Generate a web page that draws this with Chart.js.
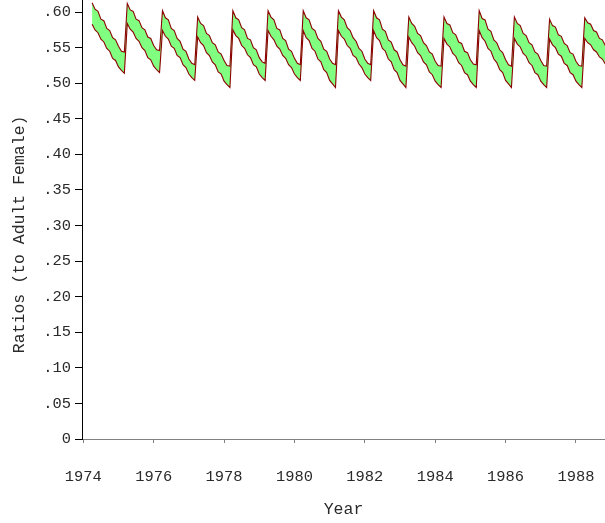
<!DOCTYPE html>
<html><head><meta charset="utf-8">
<script src="https://cdn.jsdelivr.net/npm/chart.js@4"></script>
<style>html,body{margin:0;padding:0;background:#fff}#wrap{width:605px;height:523px;position:relative}</style>
</head><body><div id="wrap"><canvas id="c"></canvas></div>
<script>
// Each row: monthly values April (year) .. March (year+1)
const years = [1974,1975,1976,1977,1978,1979,1980,1981,1982,1983,1984,1985,1986,1987,1988];
const upperRatio = [
  [.613,.604,.601,.590,.588,.577,.574,.564,.561,.552,.545,.544],
  [.612,.603,.601,.590,.588,.578,.575,.565,.563,.553,.547,.546],
  [.602,.592,.589,.577,.574,.563,.559,.548,.545,.534,.528,.526],
  [.593,.584,.581,.570,.567,.557,.554,.544,.541,.532,.525,.524],
  [.602,.592,.589,.578,.575,.563,.561,.550,.547,.536,.530,.528],
  [.602,.593,.589,.577,.575,.563,.560,.548,.545,.535,.528,.526],
  [.602,.592,.589,.577,.574,.563,.559,.548,.545,.534,.528,.526],
  [.602,.593,.589,.578,.574,.564,.559,.549,.545,.534,.528,.526],
  [.602,.592,.589,.576,.573,.561,.558,.547,.544,.533,.526,.524],
  [.593,.584,.580,.570,.567,.557,.553,.544,.541,.531,.525,.524],
  [.593,.584,.582,.571,.568,.558,.556,.545,.543,.533,.527,.526],
  [.602,.591,.589,.576,.573,.561,.557,.547,.543,.533,.526,.524],
  [.593,.584,.581,.570,.567,.557,.554,.544,.541,.532,.525,.524],
  [.590,.581,.579,.568,.566,.556,.553,.543,.541,.531,.525,.524],
  [.592,.585,.583,.574,.572,.563,.561,.553,.551,.543]
];
const lowerRatio = [
  [.583,.575,.571,.562,.558,.549,.545,.535,.532,.523,.518,.514],
  [.584,.576,.572,.563,.559,.550,.546,.536,.533,.524,.519,.515],
  [.574,.566,.562,.552,.549,.539,.536,.526,.522,.513,.508,.504],
  [.565,.557,.553,.543,.539,.530,.526,.516,.513,.503,.498,.494],
  [.575,.567,.563,.553,.549,.540,.536,.526,.523,.513,.508,.504],
  [.574,.566,.561,.552,.548,.539,.535,.526,.522,.513,.508,.504],
  [.574,.564,.560,.549,.545,.534,.530,.519,.515,.504,.499,.494],
  [.574,.566,.562,.553,.549,.539,.536,.527,.522,.513,.508,.504],
  [.574,.564,.560,.549,.545,.534,.530,.519,.515,.504,.499,.494],
  [.565,.557,.552,.543,.539,.530,.526,.516,.512,.503,.498,.494],
  [.563,.555,.551,.542,.538,.529,.525,.515,.512,.503,.498,.494],
  [.574,.564,.559,.549,.545,.534,.529,.519,.515,.504,.499,.494],
  [.563,.555,.551,.542,.538,.529,.525,.515,.512,.503,.498,.494],
  [.562,.554,.550,.541,.538,.528,.525,.515,.512,.503,.498,.494],
  [.563,.557,.554,.547,.544,.537,.534,.527,.525,.518]
];
const xTicks = [1974,1976,1978,1980,1982,1984,1986,1988];
const yTicks = [0,0.05,0.10,0.15,0.20,0.25,0.30,0.35,0.40,0.45,0.50,0.55,0.60];
const yTickLabels = ['0','.05','.10','.15','.20','.25','.30','.35','.40','.45','.50','.55','.60'];
const xTitle = 'Year';
const yTitle = 'Ratios (to Adult Female)';

function toPoints(rows){
  const pts = [];
  rows.forEach((row, k) => {
    row.forEach((v, i) => pts.push({x: years[k] + (3 + i) / 12, y: v}));
  });
  return pts;
}

const FONT = "'Liberation Mono', 'DejaVu Sans Mono', monospace";
const RED = '#8b0000';
const GREEN = '#80ff80';
const TEXT = '#2a2a2a';

new Chart(document.getElementById('c'), {
  type: 'line',
  data: {
    datasets: [
      {data: toPoints(upperRatio), borderColor: RED, borderWidth: 1.1, backgroundColor: GREEN, fill: '+1', pointRadius: 0, tension: 0},
      {data: toPoints(lowerRatio), borderColor: RED, borderWidth: 1.1, fill: false, pointRadius: 0, tension: 0}
    ]
  },
  options: {
    responsive: true, maintainAspectRatio: false, animation: false, devicePixelRatio: 1,
    layout: {padding: 0},
    plugins: {legend: {display: false}, tooltip: {enabled: false}, filler: {drawTime: 'beforeDatasetsDraw'}},
    scales: {
      x: {
        type: 'linear', min: 1973.963, max: 1988.825,
        afterBuildTicks: s => { s.ticks = xTicks.map(v => ({value: v})); },
        afterFit: s => { s.height = 84; s.paddingLeft = 0; s.paddingRight = 0; },
        grid: {drawOnChartArea: false, drawTicks: true, tickLength: 4, color: '#808080'},
        border: {display: true, color: '#808080', width: 1},
        ticks: {autoSkip: false, maxRotation: 0, padding: 25, color: TEXT, font: {family: FONT, size: 15.4}, callback: v => String(v)},
        title: {display: true, text: xTitle, color: TEXT, font: {family: FONT, size: 16.5}, padding: {top: 0, bottom: 3}}
      },
      y: {
        type: 'linear', min: 0, max: 0.617,
        afterBuildTicks: s => { s.ticks = yTicks.map(v => ({value: v})); },
        afterFit: s => { s.width = 82; s.paddingTop = 0; s.paddingBottom = 0; },
        grid: {drawOnChartArea: false, drawTicks: true, tickLength: 7, color: '#000'},
        border: {display: true, color: '#000', width: 1},
        ticks: {autoSkip: false, padding: 4, color: TEXT, font: {family: FONT, size: 15.4},
          callback: (v, i) => yTickLabels[i]},
        title: {display: true, text: yTitle + '   ', color: TEXT, font: {family: FONT, size: 16.5}, padding: {top: 10, bottom: 0}}
      }
    }
  }
});
</script>
</body></html>
